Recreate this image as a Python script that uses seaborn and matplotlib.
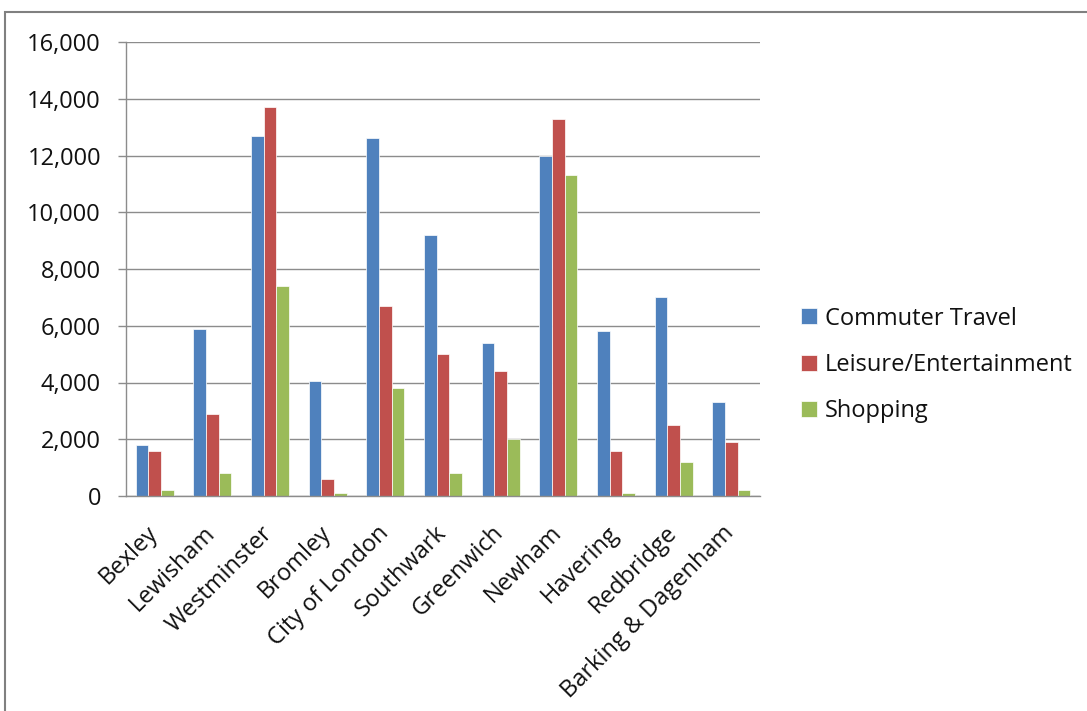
import matplotlib
matplotlib.use("Agg")
import matplotlib.pyplot as plt
import matplotlib.transforms as mtransforms
import seaborn as sns
import pandas as pd
import numpy as np
from matplotlib.patches import Rectangle
from matplotlib.ticker import FuncFormatter, FixedLocator

categories = ["Bexley", "Lewisham", "Westminster", "Bromley", "City of London",
              "Southwark", "Greenwich", "Newham", "Havering", "Redbridge",
              "Barking & Dagenham"]
series_names = ["Commuter Travel", "Leisure/Entertainment", "Shopping"]
commuter = [1800, 5900, 12700, 4070, 12600, 9200, 5400, 12000, 5800, 7000, 3300]
leisure = [1600, 2900, 13700, 600, 6700, 5000, 4400, 13300, 1600, 2500, 1900]
shopping = [200, 800, 7400, 100, 3800, 800, 2000, 11300, 100, 1200, 200]
colors = ["#4F81BD", "#C0504D", "#9BBB59"]

rows = []
for name, vals in zip(series_names, [commuter, leisure, shopping]):
    for c, v in zip(categories, vals):
        rows.append({"Borough": c, "Series": name, "Value": v})
df = pd.DataFrame(rows)

sns.set_style("white")
plt.rcParams['font.family'] = ['Open Sans', 'DejaVu Sans']

fig = plt.figure(figsize=(10.87, 7.11), dpi=100)
ax = fig.add_axes([126/1087, 1 - 496/711, (760-126)/1087, (496-42)/711])

sns.barplot(data=df, x="Borough", y="Value", hue="Series", order=categories,
            hue_order=series_names, palette=colors, width=0.66, gap=0,
            edgecolor="white", linewidth=0.5, ax=ax, errorbar=None, saturation=1)

ax.set_ylim(0, 16000)
ax.set_xlim(-0.5, len(categories) - 0.5)
ax.yaxis.set_major_locator(FixedLocator(np.arange(0, 16001, 2000)))
ax.yaxis.set_major_formatter(FuncFormatter(lambda v, p: f"{int(v):,}"))
ax.grid(axis="y", color="#8c8c8c", linewidth=1)
ax.set_axisbelow(True)
ax.set_xlabel("")
ax.set_ylabel("")

for s in ["top", "right"]:
    ax.spines[s].set_visible(False)
for s in ["left", "bottom"]:
    ax.spines[s].set_color("#8c8c8c")
    ax.spines[s].set_linewidth(1)

ax.set_xticks(range(len(categories)))
ax.set_xticklabels(categories, rotation=45, ha="right", rotation_mode="anchor",
                   fontsize=17, color="#111111")
ax.tick_params(axis="x", which="major", length=0, pad=18)
offset = mtransforms.ScaledTranslation(-9/100, 0, fig.dpi_scale_trans)
for lab in ax.get_xticklabels():
    lab.set_transform(lab.get_transform() + offset)
ax.set_xticks(np.arange(-0.5, len(categories), 1.0), minor=True)
ax.tick_params(axis="x", which="minor", length=6, color="#8c8c8c", width=1)
ax.tick_params(axis="y", which="major", length=6, color="#8c8c8c", width=1,
               labelsize=17, labelcolor="#111111", pad=12, left=True)

leg = ax.legend(loc="center left", bbox_to_anchor=(792/1087, 1 - 365/711),
                bbox_transform=fig.transFigure, frameon=False, fontsize=17,
                handlelength=0.65, handleheight=0.65, labelspacing=0.95, handletextpad=0.35,
                borderaxespad=0)
for t in leg.get_texts():
    t.set_color("#111111")

fig.patches.append(Rectangle((5/1087, -0.1), 1.2, 1 - 12/711 + 0.1,
                             transform=fig.transFigure, fill=False,
                             edgecolor="#808080", linewidth=1.5))

fig.savefig("out.png", dpi=100)
